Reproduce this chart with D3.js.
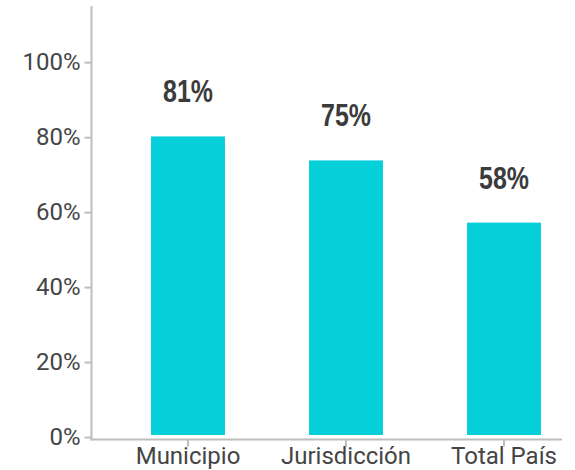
<!DOCTYPE html>
<html>
<head>
<meta charset="utf-8">
<script src="https://cdn.jsdelivr.net/npm/d3@7.9.0/dist/d3.min.js"></script>
<style>
  body { margin: 0; background: #fff; }
  svg { display: block; }
</style>
</head>
<body>
<svg id="chart" width="575" height="470"></svg>
<script>
const categories = ['Municipio', 'Jurisdicción', 'Total País'];
const barValues = [80.2, 73.8, 57.2];
const valueLabels = ['81%', '75%', '58%'];
const yTicks = [0, 20, 40, 60, 80, 100];

const svg = d3.select('#chart');
const axisColor = '#bdbdbd';
const textColor = '#454545';

let y = d3.scaleLinear().domain([0, 115]).range([437, 6]);
let x = d3.scaleBand()
  .domain(categories)
  .range([109, 583])
  .paddingInner(0.532)
  .paddingOuter(0.266);

// bars
svg.selectAll('rect.bar')
  .data(barValues)
  .join('rect')
  .attr('class', 'bar')
  .attr('x', (d, i) => x(categories[i]))
  .attr('width', x.bandwidth())
  .attr('y', d => y(d))
  .attr('height', d => y(0) - 2 - y(d))
  .attr('fill', '#05cfd8');

// value labels above bars (narrow bold look: squeeze horizontally)
svg.selectAll('text.val')
  .data(barValues)
  .join('text')
  .attr('class', 'val')
  .attr('transform', (d, i) =>
    `translate(${x(categories[i]) + x.bandwidth() / 2},${y(d) - 34}) scale(0.78,1)`)
  .attr('text-anchor', 'middle')
  .attr('font-family', '"Liberation Sans", Arial, sans-serif')
  .attr('font-weight', 'bold')
  .attr('font-size', 32)
  .attr('fill', '#3b3b3b')
  .text((d, i) => valueLabels[i]);

// y axis
let yAxis = d3.axisLeft(y)
  .tickValues(yTicks)
  .tickSize(7)
  .tickPadding(4)
  .tickFormat(d => d + '%');

let gy = svg.append('g').attr('transform', 'translate(91.5,0)').call(yAxis);
gy.select('.domain').remove();
gy.selectAll('.tick line').attr('stroke', axisColor).attr('stroke-width', 2);
gy.selectAll('.tick text')
  .attr('font-family', 'Roboto, sans-serif')
  .attr('font-size', 24)
  .attr('fill', textColor)
  .attr('dy', '0.3em');

svg.append('line')
  .attr('x1', 91.5).attr('x2', 91.5)
  .attr('y1', 6).attr('y2', 440.5)
  .attr('stroke', axisColor).attr('stroke-width', 2);

// x axis
let xAxis = d3.axisBottom(x).tickSize(7).tickPadding(3);
let gx = svg.append('g').attr('transform', 'translate(0,439.5)').call(xAxis);
gx.select('.domain').remove();
gx.selectAll('.tick line').attr('stroke', axisColor).attr('stroke-width', 2);
gx.selectAll('.tick text')
  .attr('font-family', 'Roboto, sans-serif')
  .attr('font-size', 24)
  .attr('fill', textColor)
  .attr('dy', '0.62em');

svg.append('line')
  .attr('x1', 90.5).attr('x2', 562)
  .attr('y1', 439.5).attr('y2', 439.5)
  .attr('stroke', axisColor).attr('stroke-width', 2);
</script>
</body>
</html>
